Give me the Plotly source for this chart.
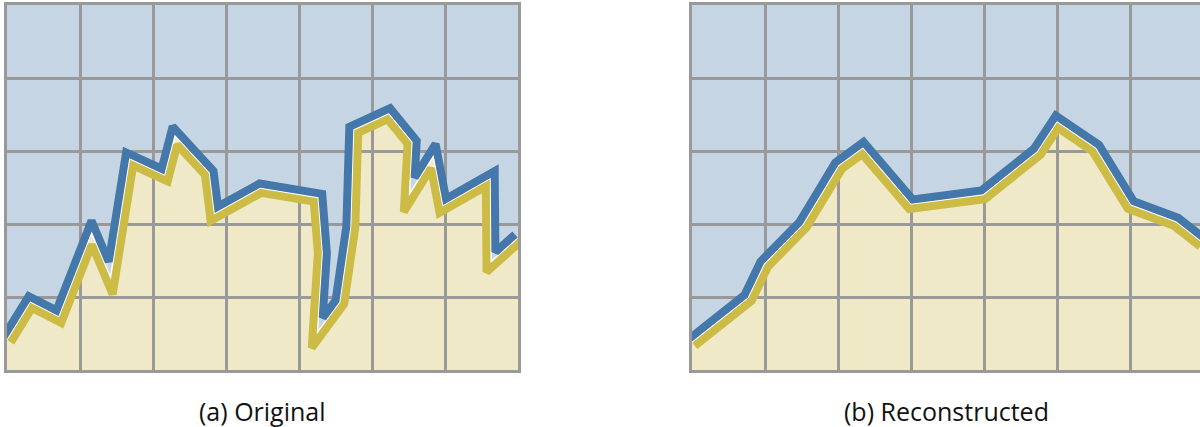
import numpy as np
import plotly.graph_objects as go

# Centre line of each profile, in grid units (x: 0..7 columns, y: 0..5 rows)
orig_x = [0.00, 0.32, 0.71, 1.16, 1.42, 1.68, 2.16, 2.30, 2.77, 2.84, 3.47, 4.26,
          4.32, 4.25, 4.56, 4.71, 4.75, 5.23, 5.55, 5.51, 5.84, 5.97, 6.62, 6.63, 7.00]
orig_y = [0.41, 0.93, 0.73, 1.88, 1.26, 2.89, 2.67, 3.21, 2.70, 2.14, 2.49, 2.36,
          1.60, 0.51, 0.93, 1.96, 3.29, 3.51, 3.12, 2.40, 2.93, 2.25, 2.62, 1.48, 1.81]

rec_x = [0.00, 0.77, 0.99, 1.52, 2.01, 2.34, 3.00, 3.99, 4.73, 5.00, 5.53, 6.01, 6.63, 7.00]
rec_y = [0.38, 0.99, 1.45, 1.99, 2.80, 3.04, 2.27, 2.40, 2.99, 3.40, 3.04, 2.26, 2.03, 1.74]

panel_titles = ["(a) Original", "(b) Reconstructed"]

PX_PER_UNIT = 73.0
STROKE_OFFSET = 4.5 / PX_PER_UNIT   # half-gap + half-stroke, in grid units

BLUE = "#4477AA"
YELLOW = "#CCBB44"
BLUE_FILL = "#C5D5E4"
YELLOW_FILL = "#EFE9C8"
GRID = "#999999"


def offset_polyline(x, y, d):
    """Parallel curve at signed distance d (left of travel direction), mitred."""
    p = np.column_stack([x, y]).astype(float)
    seg = np.diff(p, axis=0)
    seg /= np.linalg.norm(seg, axis=1)[:, None]
    nrm = np.column_stack([-seg[:, 1], seg[:, 0]])
    out = np.empty_like(p)
    out[0] = p[0] + d * nrm[0]
    out[-1] = p[-1] + d * nrm[-1]
    for i in range(1, len(p) - 1):
        m = nrm[i - 1] + nrm[i]
        m /= np.linalg.norm(m)
        k = d / max(float(np.dot(m, nrm[i])), 0.25)
        out[i] = p[i] + k * m
    return out[:, 0], out[:, 1]


def area_path(x, y):
    pts = " L ".join(f"{a},{b}" for a, b in zip(x, y))
    return f"M {x[0]},0 L {pts} L {x[-1]},0 Z"


fig = go.Figure()

panels = [
    (orig_x, orig_y, "x", "y"),
    (rec_x, rec_y, "x2", "y2"),
]

for xs, ys, xa, ya in panels:
    # light yellow area beneath the profile (under the grid)
    fig.add_shape(type="path", path=area_path(xs, ys), xref=xa, yref=ya,
                  fillcolor=YELLOW_FILL, line=dict(width=0), layer="below")
    bx, by = offset_polyline(xs, ys, STROKE_OFFSET)
    yx, yy = offset_polyline(xs, ys, -STROKE_OFFSET)
    fig.add_trace(go.Scatter(x=xs, y=ys, xaxis=xa, yaxis=ya, mode="lines",
                             line=dict(color="white", width=2), hoverinfo="skip"))
    fig.add_trace(go.Scatter(x=yx, y=yy, xaxis=xa, yaxis=ya, mode="lines",
                             line=dict(color=YELLOW, width=8), hoverinfo="skip"))
    fig.add_trace(go.Scatter(x=bx, y=by, xaxis=xa, yaxis=ya, mode="lines",
                             line=dict(color=BLUE, width=8), hoverinfo="skip"))

W, H = 1200, 427
y_dom = [57 / H, 422 / H]

axis_common = dict(showgrid=True, gridcolor=GRID, gridwidth=2.5, dtick=1, tick0=0,
                   showticklabels=False, ticks="", zeroline=False,
                   showline=True, linecolor=GRID, linewidth=2.5)

fig.update_layout(
    width=W, height=H, autosize=False,
    margin=dict(l=0, r=0, t=0, b=0),
    paper_bgcolor="white", plot_bgcolor=BLUE_FILL,
    showlegend=False,
    xaxis=dict(domain=[7 / W, 518 / W], range=[0, 7], mirror=True, **axis_common),
    yaxis=dict(domain=y_dom, range=[0, 5], mirror=True, **axis_common),
    xaxis2=dict(domain=[692 / W, 1.0], range=[0, (W - 692) / PX_PER_UNIT],
                mirror=True, anchor="y2", **axis_common),
    yaxis2=dict(domain=y_dom, range=[0, 5], mirror=False, anchor="x2", **axis_common),
    font=dict(family="Open Sans", color="#111111"),
)

for title, cx in zip(panel_titles, [262.5, 946]):
    fig.add_annotation(text=title, xref="paper", yref="paper",
                       x=cx / W, y=(H - 411) / H, xanchor="center", yanchor="middle",
                       showarrow=False, font=dict(size=25))

fig.write_html("out.html")
